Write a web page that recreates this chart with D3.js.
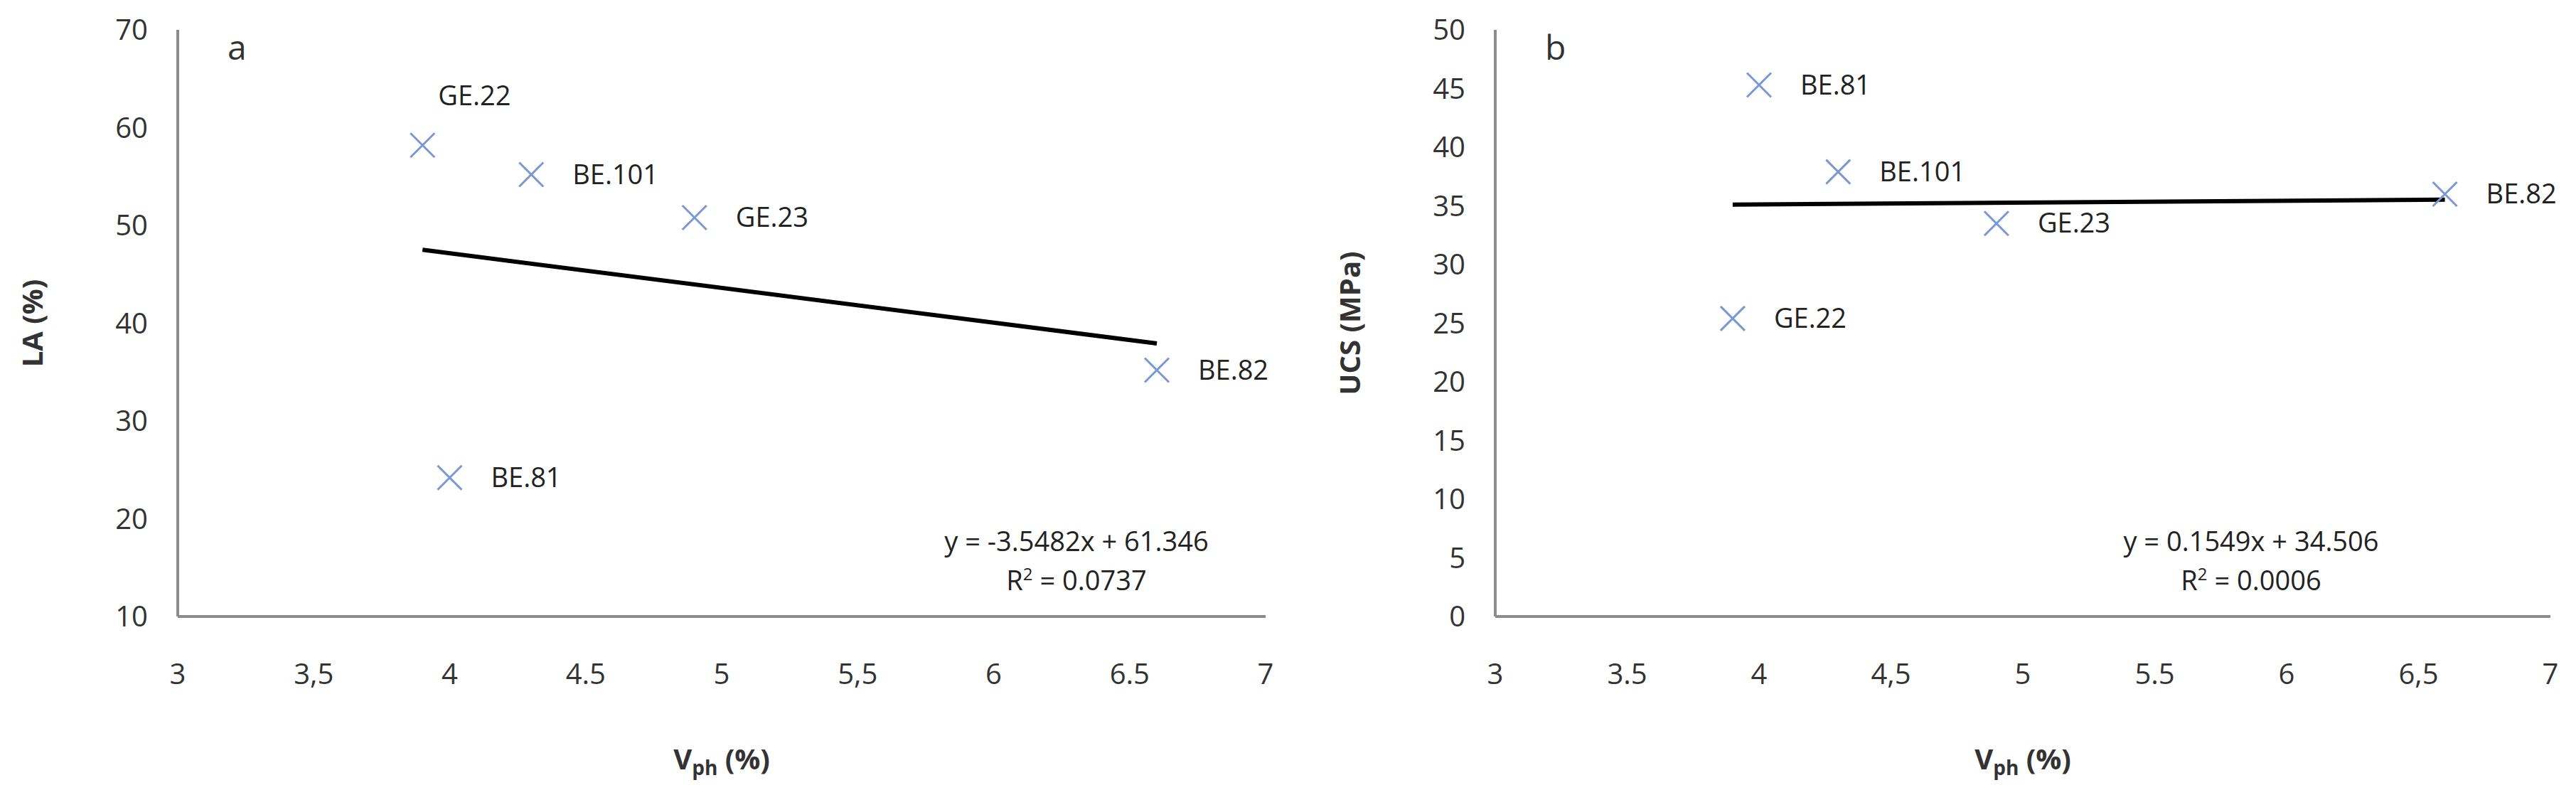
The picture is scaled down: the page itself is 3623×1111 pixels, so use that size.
<!DOCTYPE html>
<html><head><meta charset="utf-8">
<script src="https://cdn.jsdelivr.net/npm/d3@7"></script>
<style>body{margin:0;background:#fff}</style></head>
<body><svg id="c" width="3623" height="1111"></svg>
<script>
const xTicks=[3,3.5,4,4.5,5,5.5,6,6.5,7];
const xTickLabels=["3","3,5","4","4.5","5","5,5","6","6.5","7"];
const xTickLabelsB=["3","3.5","4","4,5","5","5.5","6","6,5","7"];
const namesA=["GE.22","BE.101","GE.23","BE.82","BE.81"];
const vphA=[3.9,4.3,4.9,6.6,4.0];
const laA=[58.2,55.2,50.8,35.2,24.2];
const namesB=["BE.81","BE.101","GE.23","BE.82","GE.22"];
const vphB=[4.0,4.3,4.9,6.6,3.9];
const ucsB=[45.3,37.9,33.5,36.0,25.4];
const yTicksA=[10,20,30,40,50,60,70];
const yTicksB=[0,5,10,15,20,25,30,35,40,45,50];
const fitA={m:-3.5482,b:61.346,eq:"y = -3.5482x + 61.346",r2:"0.0737"};
const fitB={m:0.1549,b:34.506,eq:"y = 0.1549x + 34.506",r2:"0.0006"};
const F="'Liberation Sans Narrow','Open Sans',sans-serif";
const svg=d3.select("#c");
function panel(o){
  const g=svg.append("g");
  const x=d3.scaleLinear().domain([3,7]).range([o.x0,o.x1]);
  const y=d3.scaleLinear().domain(o.yd).range([867,42]);
  g.append("line").attr("x1",o.x0).attr("x2",o.x1).attr("y1",867).attr("y2",867).attr("stroke","#8c8c8c").attr("stroke-width",4);
  g.append("line").attr("x1",o.x0).attr("x2",o.x0).attr("y1",867).attr("y2",42).attr("stroke","#8c8c8c").attr("stroke-width",4);
  xTicks.forEach((t,i)=>g.append("text").attr("x",x(t)).attr("y",962).attr("text-anchor","middle").attr("font-family",F).attr("font-size",40).attr("fill","#333").text(o.xl[i]));
  o.yt.forEach(t=>g.append("text").attr("x",o.x0-42).attr("y",y(t)+14).attr("text-anchor","end").attr("font-family",F).attr("font-size",40).attr("fill","#333").text(t));
  const xt=g.append("text").attr("x",(o.x0+o.x1)/2).attr("y",1082).attr("text-anchor","middle").attr("font-family",F).attr("font-size",40).attr("font-weight","bold").attr("fill","#333");
  xt.append("tspan").text("V");
  xt.append("tspan").attr("font-size",28).attr("dy",8).text("ph");
  xt.append("tspan").attr("dy",-8).text(" (%)");
  g.append("text").attr("transform",`translate(${o.x0-190},${y((o.yd[0]+o.yd[1])/2)}) rotate(-90)`).attr("text-anchor","middle").attr("font-family","'Open Sans',sans-serif").attr("font-size",40).attr("font-weight","bold").attr("fill","#333").text(o.yl);
  g.append("text").attr("x",o.x0+70).attr("y",84).attr("font-family",F).attr("font-size",48).attr("fill","#333").text(o.letter);
  const f=o.fit;
  g.append("line").attr("x1",x(3.9)).attr("y1",y(f.m*3.9+f.b)).attr("x2",x(6.6)).attr("y2",y(f.m*6.6+f.b)).attr("stroke","#000").attr("stroke-width",6);
  o.xs.forEach((v,i)=>{
    const cx=x(v),cy=y(o.ys[i]),s=17;
    g.append("path").attr("d",`M${cx-s},${cy-s}L${cx+s},${cy+s}M${cx-s},${cy+s}L${cx+s},${cy-s}`).attr("stroke","#7b98d3").attr("stroke-width",3).attr("fill","none");
    const above=o.names[i]==="GE.22"&&o.letter==="a";
    g.append("text").attr("x",above?cx+22:cx+58).attr("y",above?cy-56:cy+13).attr("font-family",F).attr("font-size",38).attr("fill","#222").text(o.names[i]);
  });
  g.append("text").attr("x",o.eqx).attr("y",775).attr("text-anchor","middle").attr("font-family",F).attr("font-size",38).attr("fill","#222").text(f.eq);
  const r=g.append("text").attr("x",o.eqx).attr("y",830).attr("text-anchor","middle").attr("font-family",F).attr("font-size",38).attr("fill","#222");
  r.append("tspan").text("R");r.append("tspan").attr("font-size",24).attr("dy",-14).text("2");r.append("tspan").attr("dy",14).text(" = "+f.r2);
}
panel({x0:250,x1:1780,yd:[10,70],yt:yTicksA,xl:xTickLabels,yl:"LA (%)",letter:"a",fit:fitA,xs:vphA,ys:laA,names:namesA,eqx:1514});
panel({x0:2103,x1:3587,yd:[0,50],yt:yTicksB,xl:xTickLabelsB,yl:"UCS (MPa)",letter:"b",fit:fitB,xs:vphB,ys:ucsB,names:namesB,eqx:3166});
</script></body></html>
